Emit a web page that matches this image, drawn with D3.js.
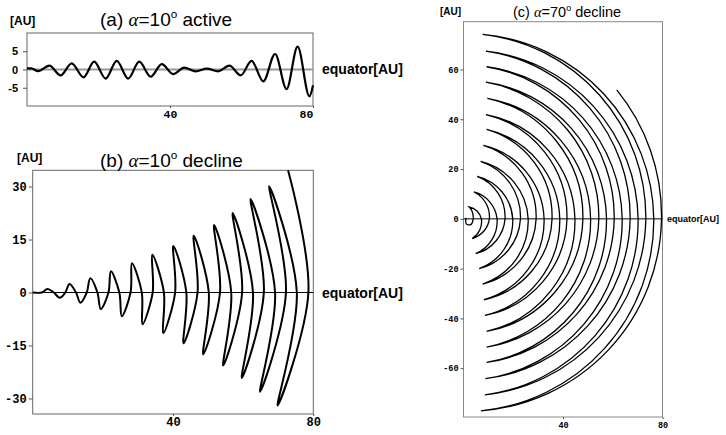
<!DOCTYPE html>
<html><head><meta charset="utf-8">
<script src="https://cdn.jsdelivr.net/npm/d3@7"></script>
<style>body{margin:0;background:#fff}svg{display:block}</style>
</head><body>
<svg id="chart" width="726" height="435"></svg>
<script>
// ---------- data (AU) ----------
// panel (a): alpha=10 deg, active  (extrema of the wave)
const aXTicks = [40, 80];
const aYTicks = [5, 0, -5];
const aWave = [[0,0.3],[1.2,0.3],[3.1,-0.45],[6.25,1.05],[9.4,-1.6],[12.5,1.7],[15.8,-2.15],[18.8,2.15],[22.0,-2.5],[25.1,2.35],[28.3,-2.5],[31.4,2.15],[34.6,-1.95],[37.7,1.5],[40.9,-1.25],[44.0,0.5],[47.2,-0.5],[50.3,0.25],[53.5,-0.5],[56.6,1.05],[59.8,-1.6],[62.8,2.35],[66.1,-3.25],[69.4,4.25],[72.6,-5.35],[75.7,6.25],[79.0,-7.35],[80,-4.3]];

// panel (b): alpha=10 deg, decline
const bXTicks = [40, 80];
const bYTicks = [30, 15, 0, -15, -30];
const bStart = [[0,0],[2.6,0]];
const bTop = [[4.2,1.0],[10.5,2.4],[16.4,4.0],[22.3,6.0],[28.3,8.3],[34.1,10.7],[40.1,13.2],[45.9,16.1],[51.7,19.1],[57.0,22.5],[62.1,26.5],[67.4,30.1]];
const bBottom = [[7.7,-1.5],[13.6,-2.9],[19.4,-4.7],[25.4,-6.7],[31.3,-9.0],[37.2,-11.5],[43.0,-14.4],[48.6,-17.5],[54.3,-20.7],[59.6,-24.2],[64.8,-28.1],[69.8,-32.0]];
const bZero = [6.0,9.3,12.35,15.4,18.45,21.6,24.7,27.9,31.1,34.2,37.4,40.6,43.8,47.0,50.2,53.4,56.6,59.7,62.8,65.9,69.1,72.2,75.3,78.6];
const bEnd = [72.8,34.6];

// panel (c): alpha=70 deg, decline
const cXTicks = [40, 80];
const cYTicks = [60, 40, 20, 0, -20, -40, -60];
const cStart = [[1.0,0.4],[1.1,-2.0],[2.9,-2.3],[3.9,0],[3.4,3.2]];
const cTop = [[2.2,4.8],[4.2,10.8],[5.5,17.1],[6.9,23.1],[8.0,29.5],[9.3,35.9],[9.0,41.9],[9.6,48.4],[9.0,54.9],[9.3,61.1],[9.0,67.4],[7.7,74.1]];
const cBottom = [[3.5,-7.9],[4.9,-14.0],[6.3,-20.0],[7.7,-26.2],[8.2,-32.5],[8.6,-38.8],[9.3,-45.2],[9.3,-51.5],[9.3,-57.7],[8.8,-64.2],[8.6,-70.7],[7.0,-77.1]];
const cZero = [7.2,10.4,13.5,16.7,19.8,22.9,26.0,29.2,32.4,35.6,38.7,41.6,44.8,48.0,51.1,54.4,57.5,60.6,63.8,67.0,70.2,73.3,76.5,79.6];
const cEnd = [61.6,51.8];

const titles = [
  {label:"(a)", angle:"10", rest:"active"},
  {label:"(b)", angle:"10", rest:"decline"},
  {label:"(c)", angle:"70", rest:"decline"}
];

// ---------- helpers ----------
const svg = d3.select("#chart");
const SANS = "'Liberation Sans', Arial, Helvetica, sans-serif";
const MONO = "'Liberation Mono', 'Courier New', monospace";

function frame(x, y, color) {
  svg.append("rect")
    .attr("x", x.range()[0]).attr("y", y.range()[1])
    .attr("width", x.range()[1] - x.range()[0])
    .attr("height", y.range()[0] - y.range()[1])
    .attr("fill", "none").attr("stroke", color).attr("stroke-width", 1);
}
function equator(x, y, color, w) {
  svg.append("line")
    .attr("x1", x.range()[0]).attr("x2", x.range()[1])
    .attr("y1", y(0)).attr("y2", y(0))
    .attr("stroke", color).attr("stroke-width", w);
}
function leftAxis(x, y, ticks, font, size, weight, len, pad) {
  const g = svg.append("g").attr("transform", `translate(${x.range()[0]},0)`)
    .call(d3.axisLeft(y).tickValues(ticks).tickSize(len).tickPadding(pad).tickFormat(d => String(d)));
  g.select(".domain").remove();
  g.selectAll("line").attr("stroke", "#555");
  g.selectAll("text").attr("font-family", font).attr("font-size", size)
    .attr("font-weight", weight).attr("fill", "#000");
  return g;
}
function bottomAxis(x, y, ticks, font, size, len, base) {
  const g = svg.append("g").attr("transform", `translate(0,${y.range()[0]})`)
    .call(d3.axisBottom(x).tickValues(ticks).tickSize(len).tickFormat(d => String(d)));
  g.select(".domain").remove();
  g.selectAll("line").attr("stroke", "#555");
  g.selectAll("text").attr("dy", null).attr("y", base)
    .attr("font-family", font).attr("font-size", size)
    .attr("font-weight", "bold").attr("fill", "#000");
  return g;
}
function title(t, x, y, size) {
  const el = svg.append("text").attr("x", x).attr("y", y)
    .attr("font-family", SANS).attr("font-size", size).attr("fill", "#000");
  el.append("tspan").text(t.label + " ");
  el.append("tspan").attr("font-family", "'Liberation Serif', 'DejaVu Serif', serif")
    .attr("font-style", "italic").text("α");
  el.append("tspan").text("=" + t.angle);
  el.append("tspan").attr("font-size", size * 0.62).attr("dy", -size * 0.42).text("o");
  el.append("tspan").attr("dy", size * 0.42).text(" " + t.rest);
}
function label(txt, x, y, size) {
  svg.append("text").attr("x", x).attr("y", y).attr("font-family", SANS)
    .attr("font-size", size).attr("font-weight", "bold").attr("fill", "#000").text(txt);
}

// ---------- panel (a) ----------
const ax = d3.scaleLinear().domain([0, 80]).range([27, 313]);
const ay = d3.scaleLinear().domain([-10, 10]).range([106, 33]);
frame(ax, ay, "#666");
equator(ax, ay, "#999", 2);
svg.append("path").datum(aWave)
  .attr("d", d3.line().x(d => ax(d[0])).y(d => ay(d[1])).curve(d3.curveMonotoneX))
  .attr("fill", "none").attr("stroke", "#000").attr("stroke-width", 2.2);
leftAxis(ax, ay, aYTicks, SANS, 11, "bold", 4, 5);
const axb = bottomAxis(ax, ay, aXTicks, MONO, 11.5, 2, 12);
axb.selectAll("text").filter(d => d === 80).attr("dx", -7);
title(titles[0], 100, 26, 19);
label("[AU]", 10, 25, 12);
label("equator[AU]", 322, 74, 14);

// ---------- panel (b) ----------
const bx = d3.scaleLinear().domain([0, 80]).range([32.7, 313.3]);
const by = d3.scaleLinear().domain([-34.4, 34.6]).range([414, 170.3]);
frame(bx, by, "#666");
equator(bx, by, "#000", 1.2);
const bSeq = bStart.slice();
for (let k = 0; k < bTop.length; k++) {
  bSeq.push(bTop[k], [bZero[2 * k], 0], bBottom[k], [bZero[2 * k + 1], 0]);
}
bSeq.push(bEnd);
svg.append("path").datum(bSeq)
  .attr("d", d3.line().x(d => bx(d[0])).y(d => by(d[1])).curve(d3.curveCatmullRom))
  .attr("fill", "none").attr("stroke", "#000").attr("stroke-width", 2);
leftAxis(bx, by, bYTicks, MONO, 12, "bold", 4, 2);
bottomAxis(bx, by, bXTicks, MONO, 12, 2, 11.5);
title(titles[1], 100, 167, 19);
label("[AU]", 17, 162, 12);
label("equator[AU]", 322, 298, 14);

// ---------- panel (c) ----------
const cx = d3.scaleLinear().domain([0, 80]).range([463.5, 662.5]);
const cy = d3.scaleLinear().domain([-79.6, 79.2]).range([417, 21.7]);
frame(cx, cy, "#888");
equator(cx, cy, "#000", 1);
const cSeq = [];
for (let k = 0; k < cTop.length; k++) {
  cSeq.push(cTop[k], [cZero[2 * k], 0], cBottom[k], [cZero[2 * k + 1], 0]);
}
cSeq.push(cEnd);
const ox = cx(0), oy = cy(0);
let cPath = d3.line().x(d => cx(d[0])).y(d => cy(d[1])).curve(d3.curveCatmullRom)(cStart.concat([cTop[0]]));
for (let i = 1; i < cSeq.length; i++) {
  const P = cSeq[i - 1], Q = cSeq[i];
  const px = cx(P[0]), py = cy(P[1]), qx = cx(Q[0]), qy = cy(Q[1]);
  const R = (Math.hypot(px - ox, py - oy) + Math.hypot(qx - ox, qy - oy)) / 2;
  const sweep = Q[1] < P[1] ? 1 : 0;
  cPath += ` A${R.toFixed(2)},${R.toFixed(2)} 0 0 ${sweep} ${qx.toFixed(2)},${qy.toFixed(2)}`;
}
svg.append("path").attr("d", cPath)
  .attr("fill", "none").attr("stroke", "#000").attr("stroke-width", 1.3);
leftAxis(cx, cy, cYTicks, MONO, 8.5, "bold", 3, 2);
bottomAxis(cx, cy, cXTicks, MONO, 8.5, 2, 10.5);
title(titles[2], 513, 17, 14.5);
label("[AU]", 440, 15, 10);
label("equator[AU]", 667, 222, 9);
</script>
</body></html>
